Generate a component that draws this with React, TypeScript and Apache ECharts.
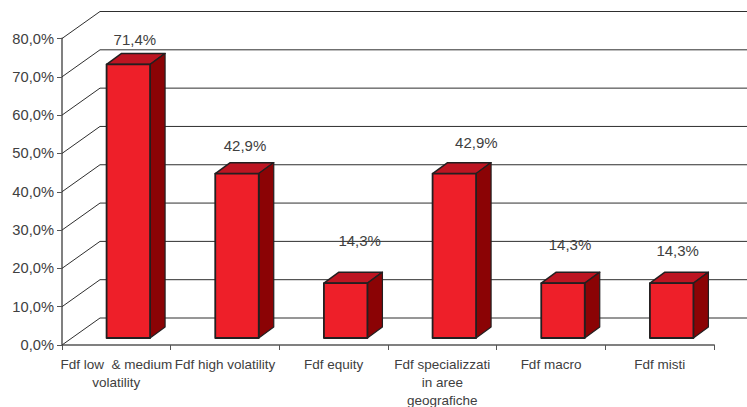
import React, { useEffect, useRef } from "react";
import * as echarts from "echarts";

// Share of funds of funds by investment style
const categories = [
  "Fdf low  & medium\nvolatility",
  "Fdf high volatility",
  "Fdf equity",
  "Fdf specializzati\nin aree\ngeografiche",
  "Fdf macro",
  "Fdf misti",
];
const shares = [71.4, 42.9, 14.3, 42.9, 14.3, 14.3];
const valueTicks = [0, 10, 20, 30, 40, 50, 60, 70, 80];
const shareLabels = ["71,4%", "42,9%", "14,3%", "42,9%", "14,3%", "14,3%"];

// Hand-placed label nudges relative to each column's front-top centre
const labelShiftX = [6.5, 8, 14, 22, 7, 6];
const labelShiftY = [-25, -28, -43, -31, -39, -33];

const WALL_DX = 38;
const WALL_DY = -27;
const BAR_SIDE_DX = 15;
const BAR_SIDE_DY = -11;
const BAR_WIDTH = 43.5;
const BAR_SHIFT_X = 12;
const BAR_LIFT = 7;
const INK = "#231f20";
const TEXT = "#404040";

const percentText = (v: number) => v.toFixed(1).replace(".", ",") + "%";

export default function App() {
  const ref = useRef<HTMLDivElement>(null);

  useEffect(() => {
    document.body.style.margin = "0";
    const chart = echarts.init(ref.current!, undefined, { renderer: "svg" });
    chart.setOption({
      animation: false,
      backgroundColor: "#ffffff",
      grid: { left: 62, right: 33, top: 38.5, bottom: 62, outerBoundsMode: "none" },
      xAxis: {
        type: "category",
        data: categories,
        boundaryGap: true,
        axisLine: { lineStyle: { color: "#808080", width: 2 } },
        axisTick: { show: true, length: 5, alignWithLabel: false, lineStyle: { color: "#555555", width: 1 } },
        axisLabel: {
          interval: 0,
          color: TEXT,
          fontFamily: "Liberation Sans",
          fontSize: 13.5,
          lineHeight: 18,
          margin: 10,
        },
      },
      yAxis: {
        type: "value",
        min: 0,
        max: 80,
        interval: 10,
        axisLine: { show: true, lineStyle: { color: "#808080", width: 2 } },
        axisTick: { show: true, length: 5, lineStyle: { color: "#555555", width: 1 } },
        splitLine: { show: false },
        axisLabel: {
          color: TEXT,
          fontFamily: "Liberation Sans",
          fontSize: 14.7,
          margin: 8,
          formatter: (v: number) => percentText(v),
        },
      },
      series: [
        {
          // Back wall: a diagonal and a horizontal rule for every tick
          type: "custom",
          clip: false,
          silent: true,
          z: 1,
          data: valueTicks.map((v) => [0, v]),
          renderItem: (params: any, api: any) => {
            const sys = params.coordSys;
            const y = api.coord([0, api.value(1)])[1];
            const lineStyle = { stroke: "#2e2e2e", lineWidth: 1, fill: "none" };
            return {
              type: "group",
              children: [
                {
                  type: "line",
                  shape: { x1: sys.x, y1: y, x2: sys.x + WALL_DX, y2: y + WALL_DY },
                  style: lineStyle,
                },
                {
                  type: "line",
                  shape: { x1: sys.x + WALL_DX, y1: y + WALL_DY, x2: sys.x + sys.width + 33, y2: y + WALL_DY },
                  style: lineStyle,
                },
              ],
            };
          },
        },
        {
          // Columns with a front, top and side face, plus the value label
          type: "custom",
          clip: false,
          z: 3,
          data: shares.map((v, i) => [i, v]),
          encode: { x: 0, y: 1 },
          renderItem: (_params: any, api: any) => {
            const i = api.value(0);
            const [cx, topY] = api.coord([i, api.value(1)]);
            const [, baseY] = api.coord([i, 0]);
            const x0 = cx + BAR_SHIFT_X - BAR_WIDTH / 2;
            const x1 = x0 + BAR_WIDTH;
            const y0 = topY - BAR_LIFT;
            const y1 = baseY - BAR_LIFT;
            const dx = BAR_SIDE_DX;
            const dy = BAR_SIDE_DY;
            const edge = { stroke: INK, lineJoin: "round" };
            return {
              type: "group",
              children: [
                {
                  type: "polygon",
                  shape: { points: [[x0, y0], [x0 + dx, y0 + dy], [x1 + dx, y0 + dy], [x1, y0]] },
                  style: { fill: "#bd1522", lineWidth: 1.5, ...edge },
                },
                {
                  type: "polygon",
                  shape: { points: [[x1, y0], [x1 + dx, y0 + dy], [x1 + dx, y1 + dy], [x1, y1]] },
                  style: { fill: "#8b0305", lineWidth: 1.2, ...edge },
                },
                {
                  type: "rect",
                  shape: { x: x0, y: y0, width: BAR_WIDTH, height: y1 - y0 },
                  style: { fill: "#ee1f29", lineWidth: 1.8, ...edge },
                },
                {
                  type: "text",
                  style: {
                    text: shareLabels[i],
                    x: x0 + BAR_WIDTH / 2 + labelShiftX[i],
                    y: y0 + labelShiftY[i],
                    align: "center",
                    verticalAlign: "middle",
                    fill: TEXT,
                    fontFamily: "Liberation Sans",
                    fontSize: 15,
                  },
                },
              ],
            };
          },
        },
      ],
    });
    return () => chart.dispose();
  }, []);

  return <div ref={ref} style={{ width: 747, height: 407 }} />;
}
